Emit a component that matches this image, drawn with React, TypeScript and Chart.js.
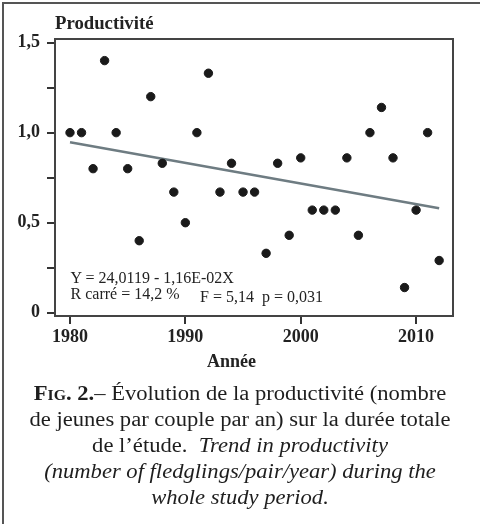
import React, { useEffect, useRef } from "react";
import { Chart, registerables } from "chart.js";

Chart.register(...registerables);

// ---- Data ----
const years: number[] = [
  1980, 1981, 1982, 1983, 1984, 1985, 1986, 1987, 1988, 1989, 1990,
  1991, 1992, 1993, 1994, 1995, 1996, 1997, 1998, 1999, 2000,
  2001, 2002, 2003, 2004, 2005, 2006, 2007, 2008, 2009, 2010, 2011, 2012,
];
const productivity: number[] = [
  1.0, 1.0, 0.8, 1.4, 1.0, 0.8, 0.4, 1.2, 0.83, 0.67, 0.5,
  1.0, 1.33, 0.67, 0.83, 0.67, 0.67, 0.33, 0.83, 0.43, 0.86,
  0.57, 0.57, 0.57, 0.86, 0.43, 1.0, 1.14, 0.86, 0.14, 0.57, 1.0, 0.29,
];
const trendYears: number[] = [1980, 2012];
const trendValues: number[] = [0.947, 0.58];
const xTickValues: number[] = [1980, 1990, 2000, 2010];
const yTickValues: number[] = [0, 0.25, 0.5, 0.75, 1.0, 1.25, 1.5];
const yLabelled: Record<string, string> = { "0": "0", "0.5": "0,5", "1": "1,0", "1.5": "1,5" };

const SERIF = "'Liberation Serif', 'Times New Roman', serif";

const framePlugin = {
  id: "frameBox",
  afterDatasetsDraw(chart: any) {
    const { ctx, chartArea } = chart;
    ctx.save();
    ctx.strokeStyle = "#444";
    ctx.lineWidth = 2;
    ctx.beginPath();
    ctx.moveTo(chartArea.left, chartArea.top);
    ctx.lineTo(chartArea.right, chartArea.top);
    ctx.lineTo(chartArea.right, chartArea.bottom);
    ctx.stroke();
    ctx.restore();
  },
};

function ScatterChart() {
  const ref = useRef<HTMLCanvasElement | null>(null);
  useEffect(() => {
    if (!ref.current) return;
    const chart = new Chart(ref.current, {
      type: "scatter",
      data: {
        datasets: [
          {
            type: "scatter",
            label: "Productivité",
            data: years.map((y, i) => ({ x: y, y: productivity[i] })),
            backgroundColor: "#1a1a1a",
            borderColor: "#1a1a1a",
            pointRadius: 4.2,
            order: 0,
          } as any,
          {
            type: "line",
            label: "Tendance",
            data: trendYears.map((y, i) => ({ x: y, y: trendValues[i] })),
            borderColor: "#6e7c82",
            borderWidth: 2.5,
            pointRadius: 0,
            fill: false,
            order: 1,
          } as any,
        ],
      },
      options: {
        animation: false,
        responsive: false,
        maintainAspectRatio: false,
        layout: { padding: { left: 0, top: 39, right: 27, bottom: 178 } },
        plugins: { legend: { display: false }, tooltip: { enabled: false }, title: { display: false } },
        scales: {
          x: {
            type: "linear",
            min: 1978.7,
            max: 2013.2,
            afterFit: (s: any) => { s.height = 30; },
            afterBuildTicks: (s: any) => { s.ticks = xTickValues.map((v) => ({ value: v })); },
            ticks: {
              color: "#222",
              font: { family: SERIF, size: 18, weight: "bold" },
              padding: 3,
              callback: (v: any) => String(v),
            },
            grid: { drawOnChartArea: false, drawTicks: true, tickLength: 8, color: "#333", lineWidth: 2 },
            border: { display: true, color: "#444", width: 2 },
          },
          y: {
            type: "linear",
            min: -0.018,
            max: 1.52,
            afterFit: (s: any) => { s.width = 55; },
            afterBuildTicks: (s: any) => { s.ticks = yTickValues.map((v) => ({ value: v })); },
            ticks: {
              color: "#222",
              font: { family: SERIF, size: 18, weight: "bold" },
              padding: 7,
              callback: (v: any) => yLabelled[String(v)] ?? "",
            },
            grid: { drawOnChartArea: false, drawTicks: true, tickLength: 8, color: "#333", lineWidth: 2 },
            border: { display: true, color: "#444", width: 2 },
          },
        },
      },
      plugins: [framePlugin],
    } as any);
    return () => chart.destroy();
  }, []);
  return <canvas ref={ref} width={480} height={524} style={{ position: "absolute", left: 0, top: 0, width: 480, height: 524 }} />;
}

const txt = (top: number, left: number, size: number, extra: React.CSSProperties = {}): React.CSSProperties => ({
  position: "absolute",
  top,
  left,
  fontFamily: SERIF,
  fontSize: size,
  lineHeight: "1",
  color: "#222",
  whiteSpace: "pre",
  ...extra,
});

const capLine = (top: number): React.CSSProperties => ({
  position: "absolute",
  top,
  left: 0,
  width: 480,
  textAlign: "center",
  fontFamily: SERIF,
  fontSize: 20,
  lineHeight: "1",
  color: "#1e1e1e",
  whiteSpace: "pre",
  transform: "scaleX(1.13)",
  transformOrigin: "240px 50%",
});

export default function App() {
  return (
    <div style={{ position: "absolute", left: 0, top: 0, width: 480, height: 524, background: "#fff", overflow: "hidden" }}>
      <div style={{ position: "absolute", left: 2, top: 2, width: 478, height: 522, borderLeft: "2px solid #555", borderTop: "2px solid #555" }} />
      <ScatterChart />
      <div style={txt(14, 55, 18, { fontWeight: "bold", transform: "scaleX(1.04)", transformOrigin: "0 50%" })}>Productivité</div>
      <div style={txt(269.6, 70.5, 16)}>Y = 24,0119 - 1,16E-02X</div>
      <div style={txt(286, 70.5, 16)}>R carré = 14,2 %</div>
      <div style={txt(289.3, 200, 16)}>F = 5,14  p = 0,031</div>
      <div style={txt(351.6, 207, 18, { fontWeight: "bold" })}>Année</div>
      <div style={capLine(383.3)}>
        <b style={{ fontVariant: "small-caps" }}>Fig. 2.</b>– Évolution de la productivité (nombre
      </div>
      <div style={capLine(409.2)}>de jeunes par couple par an) sur la durée totale</div>
      <div style={capLine(435)}>
        de l’étude.  <i>Trend in productivity</i>
      </div>
      <div style={capLine(460.6)}>
        <i>(number of fledglings/pair/year) during the</i>
      </div>
      <div style={capLine(486.6)}>
        <i>whole study period.</i>
      </div>
    </div>
  );
}
